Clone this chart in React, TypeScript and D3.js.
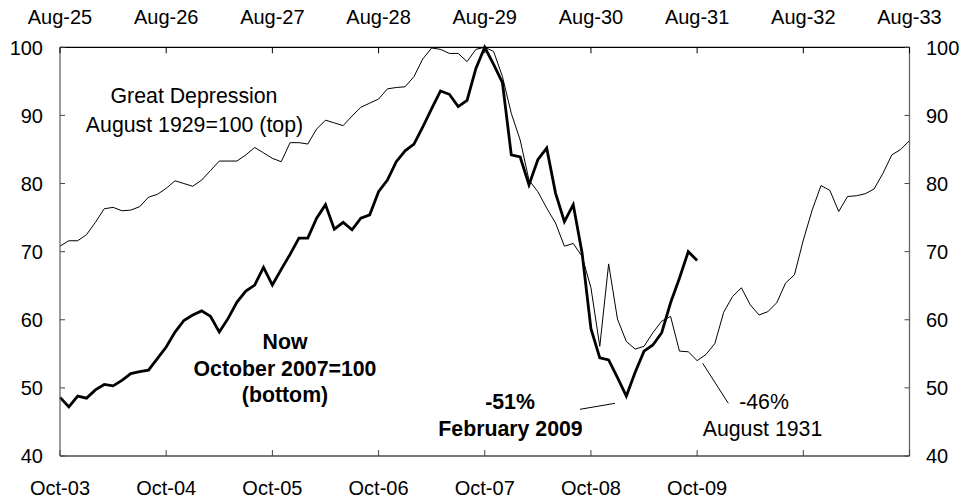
import React from "react";
import * as d3 from "d3";

const topTickLabels = ["Aug-25", "Aug-26", "Aug-27", "Aug-28", "Aug-29", "Aug-30", "Aug-31", "Aug-32", "Aug-33"];
const bottomTickLabels = ["Oct-03", "Oct-04", "Oct-05", "Oct-06", "Oct-07", "Oct-08", "Oct-09", "", ""];
const yTicks = [40, 50, 60, 70, 80, 90, 100];

// Monthly index, Great Depression: Aug-1925 .. Aug-1933 (August 1929 = 100)
const greatDepression = [
  70.8, 71.6, 71.6, 72.5, 74.3, 76.3, 76.5, 76.0, 76.1, 76.6, 78.0, 78.4,
  79.3, 80.4, 80.0, 79.6, 80.5, 81.9, 83.3, 83.3, 83.3, 84.2, 85.3, 84.5,
  83.7, 83.2, 86.0, 86.0, 85.8, 88.0, 89.3, 88.9, 88.5, 89.9, 91.2, 91.8,
  92.4, 93.9, 94.1, 94.2, 95.7, 98.3, 99.9, 99.7, 99.1, 99.1, 97.9, 99.7,
  100, 99.4, 95.7, 90.3, 86.4, 80.5, 78.8, 76.4, 74.2, 70.8, 71.2, 69.3,
  64.7, 56.1, 68.2, 60.1, 56.8, 55.7, 56.1, 58.1, 59.8, 60.5, 55.4, 55.3,
  54.0, 54.9, 56.5, 61.1, 63.4, 64.7, 62.2, 60.7, 61.2, 62.5, 65.4, 66.6,
  71.7, 76.1, 79.7, 79.0, 75.9, 78.1, 78.2, 78.5, 79.2, 81.5, 84.2, 85.0,
  86.3,
];

// Monthly index, Now: Oct-2003 .. Oct-2009 (October 2007 = 100)
const nowSeries = [
  48.6, 47.2, 48.8, 48.5, 49.7, 50.5, 50.3, 51.1, 52.1, 52.4, 52.6, 54.3,
  56.0, 58.2, 59.9, 60.7, 61.3, 60.5, 58.2, 60.2, 62.6, 64.2, 65.1, 67.7,
  65.1, 67.4, 69.6, 72.0, 72.0, 74.9, 76.9, 73.3, 74.3, 73.2, 74.9, 75.4,
  78.8, 80.5, 83.2, 84.8, 85.8, 88.3, 91.0, 93.6, 93.1, 91.3, 92.2, 96.9,
  100, 97.5, 94.8, 84.2, 83.9, 79.8, 83.5, 85.2, 78.6, 74.4, 76.9, 69.8,
  58.7, 54.4, 54.1, 51.5, 48.8, 52.3, 55.4, 56.3, 58.1, 62.5, 66.1, 70.0,
  68.7,
];

const W = 963;
const H = 500;
const L = 60;
const R = 909.5;
const T = 47.3;
const B = 456;
const FONT = "'Liberation Sans', Arial, sans-serif";
const ANN = 21.3;

export default function App() {
  const x = d3.scaleLinear().domain([0, 96]).range([L, R]);
  const y = d3.scaleLinear().domain([40, 100]).range([B, T]);
  const line = d3
    .line<number>()
    .x((_, i) => x(i))
    .y((d) => y(d));
  const yearIdx = d3.range(0, 9).map((k) => k * 12);

  return (
    <div style={{ position: "fixed", left: 0, top: 0 }}>
      <svg width={W} height={H} style={{ display: "block", background: "#fff" }} fontFamily={FONT}>
        {/* series */}
        <path d={line(greatDepression) || ""} fill="none" stroke="#000" strokeWidth={1} />
        <path d={line(nowSeries) || ""} fill="none" stroke="#000" strokeWidth={2.8} strokeLinejoin="miter" />

        {/* axes */}
        <line x1={L} x2={R} y1={T} y2={T} stroke="#000" strokeWidth={1.2} />
        <line x1={L} x2={R} y1={B} y2={B} stroke="#777" strokeWidth={2} />
        <line x1={L} x2={L} y1={T} y2={B} stroke="#666" strokeWidth={1.3} />
        <line x1={R} x2={R} y1={T} y2={B} stroke="#666" strokeWidth={1.3} />

        {yTicks.map((v) => (
          <g key={"yt" + v}>
            <line x1={L} x2={L + 5} y1={y(v)} y2={y(v)} stroke="#444" strokeWidth={1} />
            <line x1={R - 5} x2={R} y1={y(v)} y2={y(v)} stroke="#444" strokeWidth={1} />
            <text x={43} y={y(v)} dy="0.36em" textAnchor="end" fontSize={20} fill="#000">
              {v}
            </text>
            <text x={926} y={y(v)} dy="0.36em" textAnchor="start" fontSize={20} fill="#000">
              {v}
            </text>
          </g>
        ))}

        {yearIdx.map((m, i) => (
          <g key={"xt" + m}>
            <line x1={x(m)} x2={x(m)} y1={T} y2={T + 6} stroke="#000" strokeWidth={1} />
            <line x1={x(m)} x2={x(m)} y1={B - 6} y2={B} stroke="#444" strokeWidth={1} />
            <text x={x(m)} y={23.5} textAnchor="middle" fontSize={20} fill="#000">
              {topTickLabels[i]}
            </text>
            <text x={x(m)} y={495} textAnchor="middle" fontSize={20} fill="#000">
              {bottomTickLabels[i]}
            </text>
          </g>
        ))}

        {/* annotations */}
        <text x={194} y={103} textAnchor="middle" fontSize={ANN} fill="#000">
          Great Depression
        </text>
        <text x={194.5} y={132} textAnchor="middle" fontSize={ANN} fill="#000">
          August 1929=100 (top)
        </text>

        <text x={285} y={349} textAnchor="middle" fontSize={ANN} fontWeight="bold" fill="#000">
          Now
        </text>
        <text x={285} y={375.5} textAnchor="middle" fontSize={ANN} fontWeight="bold" fill="#000">
          October 2007=100
        </text>
        <text x={285} y={402} textAnchor="middle" fontSize={ANN} fontWeight="bold" fill="#000">
          (bottom)
        </text>

        <text x={510} y={409} textAnchor="middle" fontSize={ANN} fontWeight="bold" fill="#000">
          -51%
        </text>
        <text x={510.5} y={436} textAnchor="middle" fontSize={ANN} fontWeight="bold" fill="#000">
          February 2009
        </text>
        <line x1={580} y1={409.3} x2={615} y2={403.3} stroke="#000" strokeWidth={1} />

        <text x={764} y={409} textAnchor="middle" fontSize={ANN} fill="#000">
          -46%
        </text>
        <text x={762.5} y={435.5} textAnchor="middle" fontSize={ANN} fill="#000">
          August 1931
        </text>
        <line x1={702.7} y1={363.3} x2={728.3} y2={403.3} stroke="#000" strokeWidth={1} />
      </svg>
    </div>
  );
}
